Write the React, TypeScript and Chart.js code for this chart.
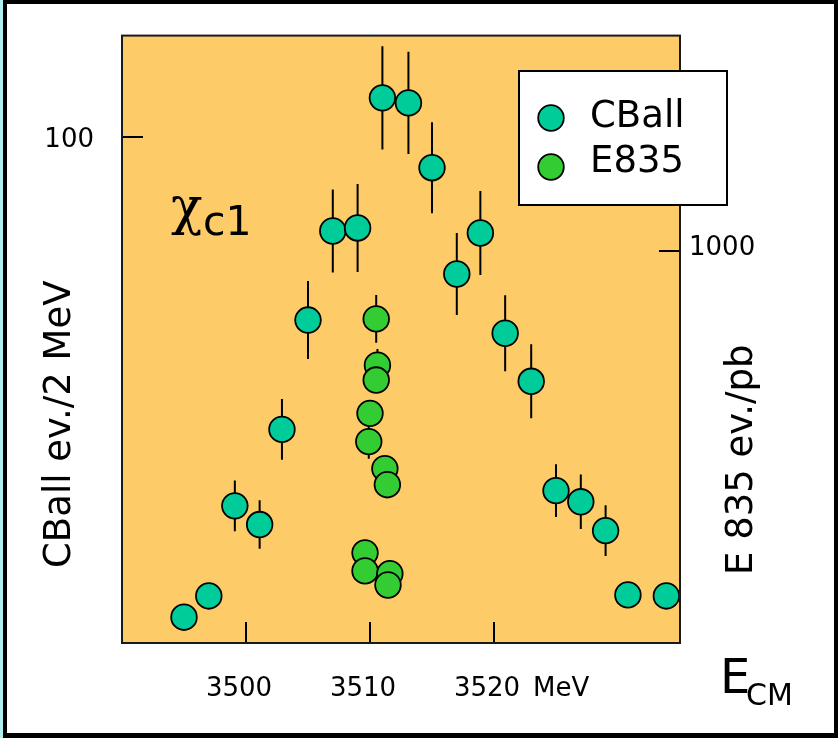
import React, { useEffect, useRef } from "react";
import { Chart, registerables } from "chart.js";

Chart.register(...registerables);

// ---- Data ----
const cballEnergy = [3495.0, 3497.0, 3499.1, 3501.1, 3502.9, 3505.0, 3507.0, 3509.0, 3511.0, 3513.1, 3515.0, 3517.0, 3518.9, 3520.9, 3523.0, 3525.0, 3527.0, 3529.0, 3530.8, 3533.9];
const cballEvents = [5.1, 9.3, 27.1, 23.4, 42.2, 63.8, 81.4, 82.0, 107.7, 106.7, 93.9, 72.9, 81.0, 61.2, 51.7, 30.1, 27.9, 22.2, 9.5, 9.3];
const cballErrors = [0, 0, 5.0, 4.8, 6.0, 7.7, 8.2, 8.7, 10.2, 10.1, 9.0, 8.1, 8.3, 7.5, 7.3, 5.2, 5.4, 5.0, 0, 0];

const e835Energy = [3510.5, 3510.6, 3510.5, 3510.0, 3509.9, 3511.2, 3511.4, 3509.6, 3509.6, 3511.6, 3511.45];
const e835Rate = [827, 709, 671, 586, 514, 445, 404, 230, 184, 177, 148];
const e835Errors = [61, 41, 0, 0, 44, 0, 0, 0, 0, 0, 0];

const xTickValues = [3500, 3510, 3520];
const leftTickValues = [100];
const rightTickValues = [1000];

const seriesNames = ["CBall", "E835"];
const leftTitle = "CBall ev./2 MeV";
const rightTitle = "E 835 ev./pb";

const ORANGE = "#FDCB68";
const TEAL = "#00CC99";
const GREEN = "#33CC33";
const FONT = '"DejaVu Sans", Verdana, sans-serif';
const XPAD = 23;

const decorPlugin = {
  id: "decor",
  beforeDraw(chart: any) {
    const { ctx, chartArea: a, width, height } = chart;
    ctx.save();
    ctx.fillStyle = "#ffffff";
    ctx.fillRect(0, 0, width, height);
    ctx.fillStyle = "#aef0f2";
    ctx.fillRect(0, 0, 3, height);
    ctx.fillStyle = "#000";
    ctx.fillRect(3, 0, width - 3, 4);
    ctx.fillRect(3, 0, 4, height);
    ctx.fillRect(width - 4, 0, 4, height);
    ctx.fillRect(3, height - 5, width - 3, 5);
    ctx.fillStyle = ORANGE;
    ctx.fillRect(a.left, a.top, a.right - a.left, a.bottom - a.top);
    ctx.restore();
  },
  beforeDatasetsDraw(chart: any) {
    const { ctx, chartArea: a, scales } = chart;
    const xs = scales.x;
    ctx.save();
    ctx.strokeStyle = "#000";
    ctx.lineWidth = 2;
    // inward tick marks
    const tl = 21;
    ctx.beginPath();
    xTickValues.forEach((v) => {
      const px = Math.round(xs.getPixelForValue(v));
      ctx.moveTo(px, a.bottom);
      ctx.lineTo(px, a.bottom - tl);
    });
    leftTickValues.forEach((v) => {
      const py = Math.round(scales.y.getPixelForValue(v));
      ctx.moveTo(a.left, py);
      ctx.lineTo(a.left + tl, py);
    });
    rightTickValues.forEach((v) => {
      const py = Math.round(scales.y1.getPixelForValue(v));
      ctx.moveTo(a.right, py);
      ctx.lineTo(a.right - tl, py);
    });
    ctx.stroke();
    // error bars
    const sets = [
      { e: cballEnergy, v: cballEvents, err: cballErrors, s: scales.y },
      { e: e835Energy, v: e835Rate, err: e835Errors, s: scales.y1 },
    ];
    ctx.beginPath();
    sets.forEach(({ e, v, err, s }) => {
      e.forEach((en, i) => {
        if (!err[i]) return;
        const px = xs.getPixelForValue(en);
        ctx.moveTo(px, s.getPixelForValue(v[i] + err[i]));
        ctx.lineTo(px, s.getPixelForValue(v[i] - err[i]));
      });
    });
    ctx.stroke();
    ctx.restore();
  },
  afterDraw(chart: any) {
    const { ctx, chartArea: a } = chart;
    ctx.save();
    // plot frame
    ctx.strokeStyle = "#1a1a1a";
    ctx.lineWidth = 2;
    ctx.strokeRect(a.left, a.top, a.right - a.left, a.bottom - a.top);

    ctx.fillStyle = "#000";
    ctx.textAlign = "left";

    // MeV after the last x tick label
    const xs = chart.scales.x;
    ctx.font = `26px ${FONT}`;
    ctx.textBaseline = "middle";
    ctx.fillText("MeV", xs.getPixelForValue(3520) + 39, a.bottom + XPAD + 23.5);
    ctx.textBaseline = "alphabetic";

    // Axis titles (rotated)
    ctx.font = `37px ${FONT}`;
    ctx.save();
    ctx.translate(70, 568);
    ctx.rotate(-Math.PI / 2);
    ctx.fillText(leftTitle, 0, 0);
    ctx.restore();
    ctx.save();
    ctx.translate(752, 575);
    ctx.rotate(-Math.PI / 2);
    ctx.fillText(rightTitle, 0, 0);
    ctx.restore();

    // E_CM
    ctx.font = `48px ${FONT}`;
    ctx.fillText("E", 720, 693);
    ctx.font = `30px ${FONT}`;
    ctx.fillText("CM", 746, 705);

    // chi_c1
    ctx.font = `52px "DejaVu Serif", serif`;
    ctx.fillText("χ", 171, 224);
    ctx.font = `41px ${FONT}`;
    ctx.fillText("c1", 203, 235);

    // Legend
    const lx = 519, ly = 71, lw = 208, lh = 134;
    ctx.fillStyle = "#fff";
    ctx.fillRect(lx, ly, lw, lh);
    ctx.strokeStyle = "#000";
    ctx.lineWidth = 2;
    ctx.strokeRect(lx, ly, lw, lh);
    const colors = [TEAL, GREEN];
    seriesNames.forEach((name, i) => {
      const cy = 118 + i * 49;
      ctx.beginPath();
      ctx.arc(551, cy, 12.8, 0, Math.PI * 2);
      ctx.fillStyle = colors[i];
      ctx.fill();
      ctx.lineWidth = 1.8;
      ctx.strokeStyle = "#000";
      ctx.stroke();
      ctx.fillStyle = "#000";
      ctx.font = `37px ${FONT}`;
      ctx.fillText(name, 590, 127 + i * 45);
    });
    ctx.restore();
  },
};

export default function App() {
  const ref = useRef<HTMLCanvasElement | null>(null);
  useEffect(() => {
    if (!ref.current) return;
    const chart = new Chart(ref.current, {
      type: "scatter",
      data: {
        datasets: [
          {
            label: seriesNames[0],
            data: cballEnergy.map((x, i) => ({ x, y: cballEvents[i] })),
            yAxisID: "y",
            backgroundColor: TEAL,
            borderColor: "#000",
            borderWidth: 1.8,
            pointRadius: 12.8,
            pointHoverRadius: 12.8,
          },
          {
            label: seriesNames[1],
            data: e835Energy.map((x, i) => ({ x, y: e835Rate[i] })),
            yAxisID: "y1",
            backgroundColor: GREEN,
            borderColor: "#000",
            borderWidth: 1.8,
            pointRadius: 12.8,
            pointHoverRadius: 12.8,
          },
        ],
      },
      options: {
        responsive: false,
        animation: false,
        events: [],
        layout: { padding: { top: 30, left: 0, right: 0, bottom: 0 } },
        plugins: { legend: { display: false }, tooltip: { enabled: false } },
        scales: {
          x: {
            type: "linear",
            position: "bottom",
            min: 3490,
            max: 3535,
            grid: { display: false },
            border: { display: false },
            afterBuildTicks: (s: any) => {
              s.ticks = xTickValues.map((value) => ({ value }));
            },
            afterFit: (s: any) => {
              s.height = 95;
            },
            ticks: {
              color: "#000",
              font: { family: FONT, size: 26 },
              padding: XPAD,
              labelOffset: -7,
              maxRotation: 0,
              callback: (v: any) => String(v),
            },
          },
          y: {
            type: "linear",
            position: "left",
            min: 0,
            max: 120,
            grid: { display: false },
            border: { display: false },
            afterBuildTicks: (s: any) => {
              s.ticks = leftTickValues.map((value) => ({ value }));
            },
            afterFit: (s: any) => {
              s.width = 122;
            },
            ticks: {
              color: "#000",
              font: { family: FONT, size: 26 },
              padding: 20,
              labelOffset: 3,
              callback: (v: any) => String(v),
            },
          },
          y1: {
            type: "linear",
            position: "right",
            min: 0,
            max: 1550,
            grid: { display: false },
            border: { display: false },
            afterBuildTicks: (s: any) => {
              s.ticks = rightTickValues.map((value) => ({ value }));
            },
            afterFit: (s: any) => {
              s.width = 158;
            },
            ticks: {
              color: "#000",
              font: { family: FONT, size: 26 },
              padding: 1,
              labelOffset: -3,
              callback: (v: any) => String(v),
            },
          },
        },
      },
      plugins: [decorPlugin],
    });
    return () => chart.destroy();
  }, []);
  return (
    <div style={{ position: "fixed", left: 0, top: 0, width: 838, height: 738 }}>
      <canvas ref={ref} width={838} height={738} style={{ display: "block" }} />
    </div>
  );
}
